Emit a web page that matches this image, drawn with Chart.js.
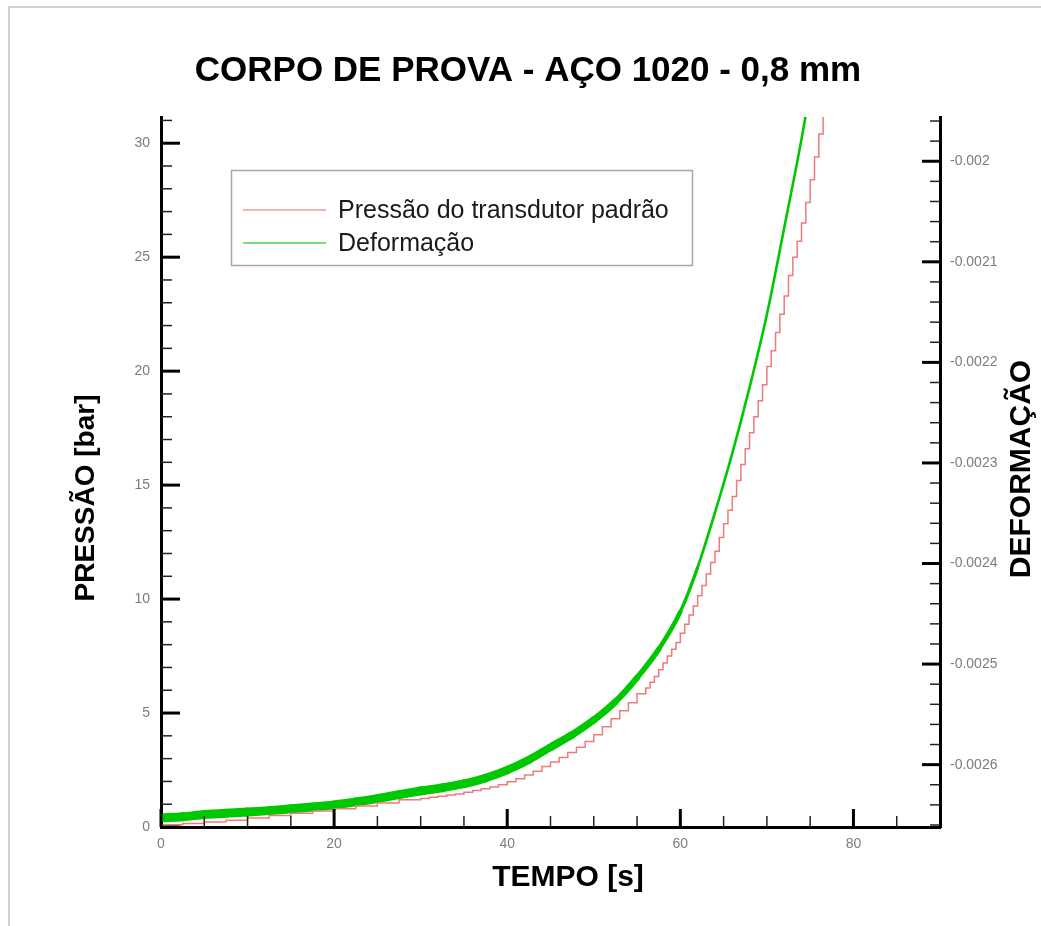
<!DOCTYPE html>
<html>
<head>
<meta charset="utf-8">
<script src="https://cdn.jsdelivr.net/npm/chart.js@4.4.0/dist/chart.umd.min.js"></script>
<style>
  html, body { margin: 0; padding: 0; background: #fff; overflow: hidden; }
  #wrap { position: relative; width: 1041px; height: 926px; overflow: hidden; }
  #frame { position: absolute; left: 8px; top: 6px; right: -10px; bottom: -10px;
           border-left: 2px solid #d0d0d0; border-top: 2px solid #d0d0d0; }
  canvas { position: absolute; left: 0; top: 0; }
</style>
</head>
<body>
<div id="wrap">
  <div id="frame"></div>
  <canvas id="grafico" width="1041" height="926"></canvas>
</div>
<script>
/* Corpo de prova - aço 1020 - 0,8 mm : pressão x tempo e deformação x tempo */

const titulo = 'CORPO DE PROVA - AÇO 1020 - 0,8 mm';

// ---- eixos ----
const tempoTicks = [0, 20, 40, 60, 80];
const pressaoTicks = [0, 5, 10, 15, 20, 25, 30];
const deformacaoTicks = [-0.0026, -0.0025, -0.0024, -0.0023, -0.0022, -0.0021, -0.002];
const deformacaoRotulos = ['-0.0026', '-0.0025', '-0.0024', '-0.0023', '-0.0022', '-0.0021', '-0.002'];

// ---- pressão do transdutor padrão [bar] ----
const tempoPressao = [
  0, 2.5, 5, 7.5, 10, 12.5, 15, 17.5, 20, 22.5, 25, 27.5,
  30, 31, 32, 33, 34, 35, 36, 37, 38, 39, 40, 41, 42, 43, 44, 45, 46, 47, 48, 49,
  50, 51, 52, 53, 54, 55, 56,
  56.5, 57, 57.5, 58, 58.5, 59, 59.5, 60, 60.5, 61, 61.5, 62, 62.5, 63, 63.5, 64, 64.5, 65,
  65.5, 66, 66.5, 67, 67.5, 68, 68.5, 69, 69.5, 70, 70.5, 71, 71.5, 72, 72.5, 73, 73.5, 74,
  74.5, 75, 75.5, 76, 76.5, 77, 77.5
];
const pressao = [
  0.05, 0.1, 0.15, 0.22, 0.3, 0.4, 0.5, 0.6, 0.7, 0.8, 0.92, 1.05,
  1.2, 1.25, 1.3, 1.35, 1.4, 1.45, 1.53, 1.6, 1.68, 1.76, 1.85, 1.98, 2.12, 2.28, 2.45, 2.65, 2.85, 3.05, 3.27, 3.5,
  3.75, 4.05, 4.4, 4.75, 5.1, 5.45, 5.85,
  6.1, 6.35, 6.6, 6.9, 7.2, 7.5, 7.8, 8.1, 8.5, 8.9, 9.3, 9.7, 10.15, 10.6, 11.1, 11.6, 12.1, 12.7,
  13.3, 13.9, 14.5, 15.2, 15.9, 16.6, 17.3, 18.0, 18.7, 19.4, 20.2, 20.9, 21.7, 22.5, 23.3, 24.2, 25.0, 25.7,
  26.5, 27.4, 28.4, 29.4, 30.4, 31.5, 32.6
];

// ---- deformação ----
const tempoDeformacao = [
  0, 2.5, 5, 7.5, 10, 12.5, 15, 17.5, 20, 22.5, 25, 27.5, 30, 32.5, 35, 37.5, 40,
  42.5, 45, 47.5, 50, 52.5, 55, 57.5, 60, 62, 64, 66, 68, 70, 72, 74, 75.5
];
const deformacao = [
  -0.0026529, -0.0026518, -0.0026495, -0.0026484, -0.0026471, -0.0026457, -0.0026439, -0.0026421,
  -0.0026400, -0.0026371, -0.0026337, -0.0026298, -0.0026262, -0.0026230, -0.0026190, -0.0026133,
  -0.0026054, -0.0025952, -0.0025827, -0.0025703, -0.0025555, -0.0025374, -0.0025136, -0.0024853,
  -0.0024480, -0.0024038, -0.0023494, -0.0022905, -0.0022249, -0.0021524, -0.0020663, -0.0019780,
  -0.0019032
];

const FONTE = '"Liberation Sans", Arial, sans-serif';

function traco(ctx, x1, y1, x2, y2, w, cor) {
  ctx.beginPath();
  ctx.lineWidth = w;
  ctx.strokeStyle = cor;
  ctx.moveTo(x1, y1);
  ctx.lineTo(x2, y2);
  ctx.stroke();
}

// marcas de escala voltadas para dentro (maiores e menores)
const marcasInternas = {
  id: 'marcasInternas',
  afterDatasetsDraw(chart) {
    const { ctx, chartArea: a, scales } = chart;
    ctx.save();
    for (let v = 0; v < 90; v += 5) {
      const px = scales.x.getPixelForValue(v);
      const maior = tempoTicks.includes(v);
      traco(ctx, px, a.bottom, px, a.bottom - (maior ? 18 : 11), maior ? 3 : 1.5, maior ? '#000' : '#222');
    }
    for (let v = 0; v <= 31; v += 1) {
      const py = scales.y.getPixelForValue(v);
      const maior = pressaoTicks.includes(v);
      traco(ctx, a.left, py, a.left + (maior ? 19 : 11), py, maior ? 3 : 1.5, maior ? '#000' : '#222');
    }
    for (let k = -133; k <= -98; k++) {
      const py = scales.y2.getPixelForValue(k * 0.00002);
      const maior = k % 5 === 0;
      traco(ctx, a.right, py, a.right - (maior ? 18 : 10), py, maior ? 3 : 1.5, maior ? '#000' : '#222');
    }
    ctx.restore();
  }
};

// legenda em caixa dentro da área do gráfico
const legendaCaixa = {
  id: 'legendaCaixa',
  afterDraw(chart) {
    const { ctx } = chart;
    ctx.save();
    ctx.fillStyle = '#fff';
    ctx.fillRect(232, 171, 460, 94);
    ctx.strokeStyle = '#a8a8a8';
    ctx.lineWidth = 1.5;
    ctx.strokeRect(231.5, 170.5, 461, 95);
    ctx.font = '25px ' + FONTE;
    ctx.textAlign = 'left';
    ctx.textBaseline = 'middle';
    chart.data.datasets.forEach((ds, i) => {
      const y = 210 + i * 33;
      ctx.globalAlpha = 0.55;
      traco(ctx, 243, y, 326, y, 2, ds.borderColor);
      ctx.globalAlpha = 1;
      ctx.fillStyle = '#1a1a1a';
      ctx.fillText(ds.label, 338, y + 1);
    });
    ctx.restore();
  }
};

// título e nomes dos eixos
const textos = {
  id: 'textos',
  afterDraw(chart) {
    const { ctx } = chart;
    ctx.save();
    ctx.fillStyle = '#000';
    ctx.textAlign = 'center';
    ctx.textBaseline = 'middle';
    ctx.font = 'bold 35px ' + FONTE;
    ctx.fillText(titulo, 528, 71);
    ctx.font = 'bold 30px ' + FONTE;
    ctx.fillText('TEMPO [s]', 568, 878);
    ctx.save();
    ctx.translate(86, 498);
    ctx.rotate(-Math.PI / 2);
    ctx.font = 'bold 28px ' + FONTE;
    ctx.fillText('PRESSÃO [bar]', 0, 0);
    ctx.restore();
    ctx.save();
    ctx.translate(1022, 469);
    ctx.rotate(-Math.PI / 2);
    ctx.font = 'bold 30px ' + FONTE;
    ctx.fillText('DEFORMAÇÃO', 0, 0);
    ctx.restore();
    ctx.restore();
  }
};

const rotuloTicks = { color: '#7c7c7c', font: { family: FONTE, size: 14 } };

new Chart(document.getElementById('grafico'), {
  type: 'line',
  data: {
    datasets: [
      {
        label: 'Pressão do transdutor padrão',
        data: tempoPressao.map((t, i) => ({ x: t, y: pressao[i] })),
        yAxisID: 'y',
        borderColor: '#f07a7a',
        borderWidth: 1.5,
        pointRadius: 0,
        stepped: 'after',
      },
      {
        label: 'Deformação',
        data: tempoDeformacao.map((t, i) => ({ x: t, y: deformacao[i] })),
        yAxisID: 'y2',
        borderColor: '#00c800',
        borderWidth: 4,
        borderCapStyle: 'round',
        borderJoinStyle: 'round',
        pointRadius: 0,
        cubicInterpolationMode: 'monotone',
        segment: {
          // faixa ruidosa: mais larga onde a curva é quase horizontal
          borderWidth: (c) => {
            const dx = c.p1.x - c.p0.x, dy = c.p1.y - c.p0.y;
            return Math.max(2.6, 9 * Math.abs(dx) / Math.hypot(dx, dy));
          },
        },
      },
    ],
  },
  options: {
    responsive: false,
    animation: false,
    events: [],
    layout: { padding: { top: 117, left: 0, right: 0, bottom: 0 } },
    plugins: { legend: { display: false }, title: { display: false }, tooltip: { enabled: false } },
    scales: {
      x: {
        type: 'linear', min: 0, max: 90,
        afterBuildTicks: (s) => { s.ticks = tempoTicks.map((v) => ({ value: v })); },
        afterFit: (s) => { s.height = 99; },
        ticks: { ...rotuloTicks, padding: 9, maxRotation: 0 },
        grid: { display: false, drawTicks: false },
        border: { display: true, color: '#000', width: 3 },
      },
      y: {
        type: 'linear', position: 'left', min: 0, max: 31.15,
        afterBuildTicks: (s) => { s.ticks = pressaoTicks.map((v) => ({ value: v })); },
        afterFit: (s) => { s.width = 161; },
        ticks: { ...rotuloTicks, padding: 11 },
        grid: { display: false, drawTicks: false },
        border: { display: true, color: '#000', width: 3 },
      },
      y2: {
        type: 'linear', position: 'right', min: -0.002662, max: -0.001956,
        afterBuildTicks: (s) => { s.ticks = deformacaoTicks.map((v) => ({ value: v })); },
        afterFit: (s) => { s.width = 101; },
        ticks: { ...rotuloTicks, padding: 10, callback: (v, i) => deformacaoRotulos[i] },
        grid: { display: false, drawTicks: false },
        border: { display: true, color: '#000', width: 3 },
      },
    },
  },
  plugins: [marcasInternas, legendaCaixa, textos],
});
</script>
</body>
</html>
